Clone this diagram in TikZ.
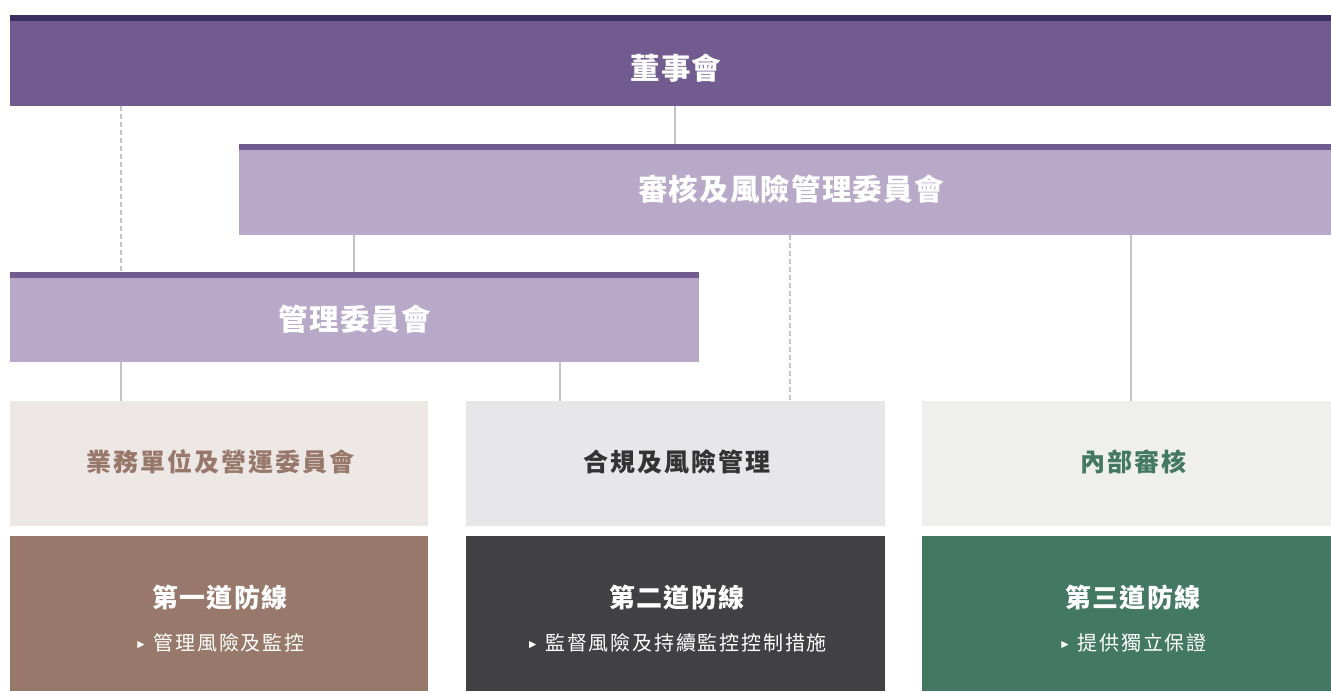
\documentclass[tikz,border=0pt]{standalone}
\usepackage{fontspec}
\usetikzlibrary{calc}
\newfontfamily\cjk{Noto Sans CJK TC}
\newfontfamily\symf{DejaVu Sans}
\definecolor{board}{HTML}{715B8F}
\definecolor{boardtop}{HTML}{3D2E60}
\definecolor{comm}{HTML}{B8A9C8}
\definecolor{brown}{HTML}{97786A}
\definecolor{dark}{HTML}{414042}
\definecolor{green}{HTML}{437862}
\definecolor{rowa}{HTML}{EDE8E5}
\definecolor{rowb}{HTML}{E7E7E9}
\definecolor{rowc}{HTML}{EFEFED}
\definecolor{rowbtext}{HTML}{333333}
\definecolor{linegray}{HTML}{C4C4C4}
\newcommand{\tri}{\raisebox{3pt}{\symf\fontsize{9.5}{9.5}\selectfont ▶}\hspace{9pt}}
\begin{document}
\begin{tikzpicture}[x=1pt,y=-1pt,
  box/.style={inner sep=0pt,outer sep=0pt,draw=none,anchor=north west},
  lbl/.style={inner sep=0pt,outer sep=0pt,anchor=base},
  bigt/.style={lbl,text=white,font={\cjk\bfseries\fontsize{29.5}{30}\selectfont\addfontfeatures{LetterSpace=4}}},
  rowt/.style={lbl,font={\cjk\bfseries\fontsize{25}{25}\selectfont\addfontfeatures{LetterSpace=8}}},
  titlet/.style={lbl,text=white,font={\cjk\bfseries\fontsize{26}{26}\selectfont\addfontfeatures{LetterSpace=5}}},
  subt/.style={lbl,text=white,font={\cjk\fontsize{20}{20}\selectfont\addfontfeatures{LetterSpace=9}}},
  conn/.style={draw=linegray,line width=1.3pt},
  dconn/.style={conn,dash pattern=on 5pt off 3pt}]
\useasboundingbox (0,0) rectangle (1331,691);
% boxes
\node[box,fill=board,minimum width=1321pt,minimum height=91pt] (board) at (10,15) {};
\fill[boardtop] (board.north west) rectangle ($(board.north east)+(0,6)$);
\node[box,fill=comm,minimum width=1092pt,minimum height=91pt] (arc) at (239,144) {};
\fill[board] (arc.north west) rectangle ($(arc.north east)+(0,6)$);
\node[box,fill=comm,minimum width=689pt,minimum height=90pt] (mgmt) at (10,272) {};
\fill[board] (mgmt.north west) rectangle ($(mgmt.north east)+(0,6)$);
\node[box,fill=rowa,minimum width=418pt,minimum height=125pt] (ra) at (10,401) {};
\node[box,fill=rowb,minimum width=419pt,minimum height=125pt] (rb) at (466,401) {};
\node[box,fill=rowc,minimum width=409pt,minimum height=125pt] (rc) at (922,401) {};
\node[box,fill=brown,minimum width=418pt,minimum height=155pt] (ba) at (10,536) {};
\node[box,fill=dark,minimum width=419pt,minimum height=155pt] (bb) at (466,536) {};
\node[box,fill=green,minimum width=409pt,minimum height=155pt] (bc) at (922,536) {};
% connectors between named nodes
\draw[dconn] ([xshift=111pt]board.south west) -- ([xshift=111pt]mgmt.north west);
\draw[conn] ([xshift=665pt]board.south west) -- ([xshift=436pt]arc.north west);
\draw[conn] ([xshift=115pt]arc.south west) -- ([xshift=344pt]mgmt.north west);
\draw[dconn] ([xshift=551pt]arc.south west) -- ([xshift=324pt]rb.north west);
\draw[conn] ([xshift=892pt]arc.south west) -- ([xshift=209pt]rc.north west);
\draw[conn] ([xshift=111pt]mgmt.south west) -- ([xshift=111pt]ra.north west);
\draw[conn] ([xshift=550pt]mgmt.south west) -- ([xshift=94pt]rb.north west);
% texts
\node[bigt] (tboard) at (676,79) {董事會};
\node[bigt] (tarc) at (791,200) {審核及風險管理委員會};
\node[bigt] (tmgmt) at (355,330) {管理委員會};
\node[rowt,text=brown] (tra) at (220,471) {業務單位及營運委員會};
\node[rowt,text=rowbtext] (trb) at (677,471) {合規及風險管理};
\node[rowt,text=green] (trc) at (1133,471) {內部審核};
\node[titlet] (tba) at (220,607) {第一道防線};
\node[titlet] (tbb) at (677,607) {第二道防線};
\node[titlet] (tbc) at (1133,607) {第三道防線};
\node[subt] (sba) at (221,650) {\tri 管理風險及監控};
\node[subt] (sbb) at (678,650) {\tri 監督風險及持續監控控制措施};
\node[subt] (sbc) at (1134,650) {\tri 提供獨立保證};
\end{tikzpicture}
\end{document}
